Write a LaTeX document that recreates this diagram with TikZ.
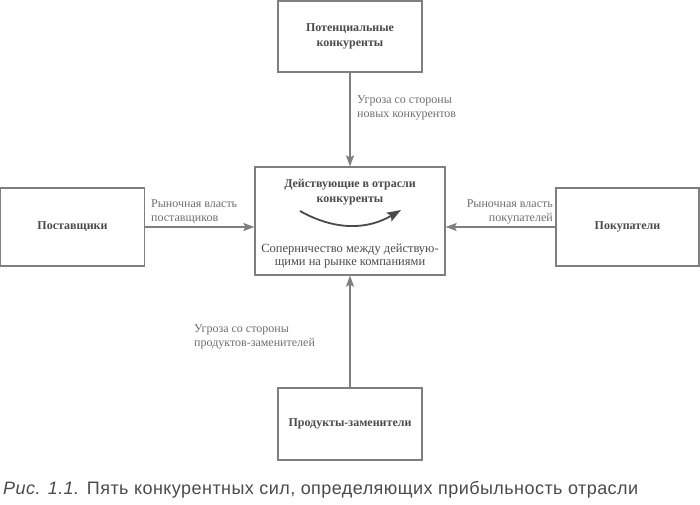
\documentclass[tikz,border=0pt]{standalone}
\usepackage{fontspec}
\setmainfont{Liberation Serif}
\newfontfamily\captfont[LetterSpace=2.5]{Liberation Sans}
\usepackage{xcolor}
\usetikzlibrary{arrows.meta, positioning}

\definecolor{boxgray}{HTML}{7F7F7F}
\definecolor{textgray}{HTML}{4A4A4A}
\definecolor{labgray}{HTML}{6E6E6E}

\tikzset{
	forcebox/.style={draw=boxgray, line width=1.2pt, align=center, inner sep=0pt,
		text=textgray, font=\fontsize{12}{15}\selectfont\bfseries},
	forcelab/.style={text=labgray, inner sep=0pt, font=\fontsize{12}{14}\selectfont},
	forcearrow/.style={draw=boxgray, line width=1.5pt, -{Stealth[length=11pt,width=8pt,inset=2pt]}}
}

\begin{document}
\begin{tikzpicture}[x=1pt,y=1pt]
	\useasboundingbox (0,0) rectangle (700,504);
	% five boxes
	\node[forcebox, minimum width=144pt, minimum height=71pt] (entrants) at (350,467.5) {Потенциальные\\конкуренты};
	\node[forcebox, minimum width=190pt, minimum height=108pt] (rivals) at (350,283) {};
	\node[forcebox, minimum width=144pt, minimum height=78pt] (suppliers) at (72.5,277) {Поставщики};
	\node[forcebox, minimum width=143pt, minimum height=78pt] (buyers) at (627.5,277) {Покупатели};
	\node[forcebox, minimum width=144pt, minimum height=72pt] (substitutes) at (350,80) {Продукты-заменители};
	% inside the middle box
	\node[forcebox, draw=none] (rivtitle) at (350,312) {Действующие в отрасли\\конкуренты};
	\node[forcelab, align=center, text=textgray, font=\fontsize{12.5}{13}\selectfont] (rivtext) at (350,247.5) {Соперничество между действую-\\щими на рынке компаниями};
	\coordinate (swirlL) at (300,293);
	\coordinate (swirlR) at (401,294);
	\draw[draw=textgray, line width=1.8pt, -{Stealth[length=14pt,width=10pt,inset=2.5pt]}] (swirlL) to[bend right=30] (swirlR);
	% arrows
	\draw[forcearrow] (entrants) -- (rivals);
	\draw[forcearrow] (substitutes) -- (rivals);
	\draw[forcearrow] (suppliers.east) -- (suppliers.east -| rivals.west);
	\draw[forcearrow] (buyers.west) -- (buyers.west -| rivals.east);
	% arrow labels
	\node[forcelab, align=left, anchor=west] (entlab) at (357,396) {Угроза со стороны\\новых конкурентов};
	\node[forcelab, align=left, anchor=west] (suplab) at (151,292.5) {Рыночная власть\\поставщиков};
	\node[forcelab, align=right, anchor=east] (buylab) at (553,292.5) {Рыночная власть\\покупателей};
	\node[forcelab, align=left, anchor=west] (sublab) at (194,167.5) {Угроза со стороны\\продуктов-заменителей};
	% caption
	\node[anchor=base west, inner sep=0pt, text=textgray, font=\captfont\fontsize{18}{20}\selectfont] (caption) at (3,10) {\textit{Рис. 1.1.} Пять конкурентных сил, определяющих прибыльность отрасли};
\end{tikzpicture}
\end{document}
